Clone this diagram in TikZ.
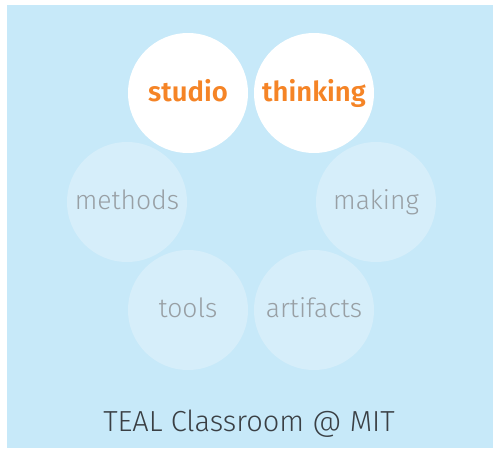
\documentclass[tikz,border=0pt]{standalone}
\usepackage{fontspec}
\setmainfont{Fira Sans Light}[BoldFont={Fira Sans SemiBold}]
\definecolor{bgblue}{HTML}{C7E9F9}
\definecolor{fadeblue}{HTML}{D6EEFA}
\definecolor{labgray}{HTML}{989FA4}
\definecolor{orng}{HTML}{F58426}
\definecolor{titlegray}{HTML}{3A3F44}
\begin{document}
\begin{tikzpicture}[x=1pt,y=-1pt,
  faded/.style={circle,fill=fadeblue,minimum size=120pt,inner sep=0pt,text=labgray,text height=18pt,text depth=4pt,font=\fontsize{26.5}{30}\selectfont},
  active/.style={circle,fill=white,minimum size=120pt,inner sep=0pt,text=orng,text height=20pt,text depth=4pt,font=\fontsize{27.5}{30}\selectfont\bfseries}]
\useasboundingbox (0,0) rectangle (493,448);
\fill[white] (0,0) rectangle (493,448);
\fill[bgblue] (7,5) rectangle (493,448);
\node[faded] (methods) at (127,202) {methods};
\node[faded] (making) at (376,202) {making};
\node[faded] (tools) at (188,310) {tools};
\node[faded] (artifacts) at (314,310) {artifacts};
\node[active] (studio) at (188,93) {studio};
\node[active] (thinking) at (314,93) {thinking};
\node[text=titlegray,font=\fontsize{29}{32}\selectfont,anchor=base] (title) at (249,431) {TEAL Classroom @ MIT};
\end{tikzpicture}
\end{document}
